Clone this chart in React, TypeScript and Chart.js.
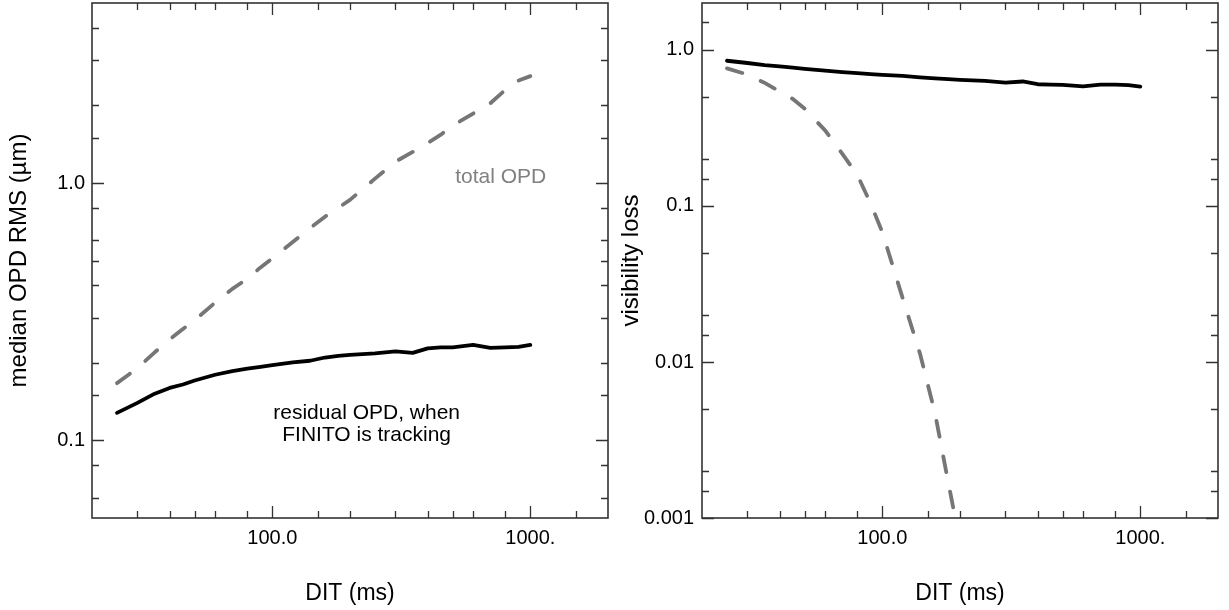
import React, { useEffect, useRef } from "react";
import { Chart, registerables } from "chart.js";

Chart.register(...registerables);

// ---------- data ----------
const DIT = [25, 30, 35, 40, 45, 50, 60, 70, 80, 90, 100, 120, 140, 160, 180, 200, 250, 300, 350, 400, 450, 500, 600, 700, 800, 900, 1000];
const residualOPD = [0.128, 0.14, 0.152, 0.16, 0.165, 0.171, 0.18, 0.186, 0.19, 0.193, 0.196, 0.201, 0.204, 0.21, 0.213, 0.215, 0.218, 0.222, 0.219, 0.228, 0.23, 0.23, 0.235, 0.229, 0.23, 0.231, 0.235];
const totalOPD = [0.167, 0.191, 0.22, 0.247, 0.271, 0.293, 0.343, 0.388, 0.425, 0.47, 0.51, 0.59, 0.668, 0.74, 0.8, 0.86, 1.04, 1.21, 1.32, 1.43, 1.54, 1.67, 1.86, 2.04, 2.3, 2.5, 2.6];
const residualVis = [0.853, 0.825, 0.8, 0.785, 0.77, 0.757, 0.738, 0.722, 0.71, 0.7, 0.693, 0.682, 0.668, 0.657, 0.65, 0.644, 0.634, 0.618, 0.628, 0.603, 0.6, 0.598, 0.584, 0.6, 0.6, 0.595, 0.583];
const DIT_TOTAL_VIS = [25, 30, 35, 40, 45, 50, 60, 70, 80, 90, 100, 120, 140, 160, 180, 200];
const totalVis = [0.762, 0.695, 0.615, 0.542, 0.485, 0.42, 0.305, 0.216, 0.158, 0.104, 0.068, 0.0255, 0.0113, 0.0047, 0.0017, 0.0007];

const X_MIN = 20;
const X_MAX = 2000;
const OPD_MIN = 0.05;
const OPD_MAX = 5;
const VIS_MIN = 0.001;
const VIS_MAX = 2;

const X_TICKS = [100, 1000];
const X_TICK_LABELS = ["100.0", "1000."];
const X_MINOR = [30, 40, 50, 60, 80, 150, 200, 300, 400, 500, 600, 800, 1500];
const OPD_TICKS = [0.1, 1];
const OPD_TICK_LABELS = ["0.1", "1.0"];
const OPD_MINOR = [0.06, 0.08, 0.15, 0.2, 0.3, 0.4, 0.5, 0.6, 0.8, 1.5, 2, 3, 4];
const VIS_TICKS = [0.001, 0.01, 0.1, 1];
const VIS_TICK_LABELS = ["0.001", "0.01", "0.1", "1.0"];
const VIS_MINOR = [0.0015, 0.002, 0.005, 0.015, 0.02, 0.05, 0.15, 0.2, 0.5, 1.5];

const X_TITLE = "DIT (ms)";
const OPD_TITLE = "median OPD RMS (\u00b5m)";
const VIS_TITLE = "visibility loss";

const FONT = "'Liberation Sans', Arial, Helvetica, sans-serif";
const DASH_GRAY = "#767676";

const pts = (xs: number[], ys: number[]) => xs.map((x, i) => ({ x, y: ys[i] }));

const frameTicks = {
  id: "frameTicks",
  afterDraw(chart: any, _args: any, opts: any) {
    const { ctx, chartArea } = chart;
    const { left, right, top, bottom } = chartArea;
    const xs = chart.scales.x;
    const ys = chart.scales.y;
    ctx.save();
    ctx.strokeStyle = "#333";
    ctx.lineWidth = 1.3;
    const major = 12;
    const minor = 7;
    const drawX = (v: number, len: number) => {
      const p = Math.round(xs.getPixelForValue(v)) + 0.5;
      ctx.beginPath();
      ctx.moveTo(p, bottom);
      ctx.lineTo(p, bottom - len);
      ctx.moveTo(p, top);
      ctx.lineTo(p, top + len);
      ctx.stroke();
    };
    const drawY = (v: number, len: number) => {
      const p = Math.round(ys.getPixelForValue(v)) + 0.5;
      ctx.beginPath();
      ctx.moveTo(left, p);
      ctx.lineTo(left + len, p);
      ctx.moveTo(right, p);
      ctx.lineTo(right - len, p);
      ctx.stroke();
    };
    opts.xMajor.forEach((v: number) => drawX(v, major));
    opts.xMinor.forEach((v: number) => drawX(v, minor));
    opts.yMajor.forEach((v: number) => drawY(v, major));
    opts.yMinor.forEach((v: number) => drawY(v, minor));
    ctx.lineWidth = 1.6;
    ctx.strokeRect(left, top, right - left, bottom - top);
    (opts.notes || []).forEach((n: any) => {
      ctx.fillStyle = n.color;
      ctx.font = `${n.size}px ${FONT}`;
      ctx.textAlign = "center";
      ctx.textBaseline = "middle";
      ctx.fillText(n.text, xs.getPixelForValue(n.x), ys.getPixelForValue(n.y));
    });
    ctx.restore();
  },
};

type PanelProps = {
  width: number;
  yWidth: number;
  padRight: number;
  yMin: number;
  yMax: number;
  yTicks: number[];
  yTickLabels: string[];
  yMinor: number[];
  yTitle: string;
  yTitlePad: number;
  yLabelPad: number;
  datasets: any[];
  notes: any[];
};

function Panel(p: PanelProps) {
  const ref = useRef<HTMLCanvasElement | null>(null);
  useEffect(() => {
    if (!ref.current) return;
    const chart = new Chart(ref.current, {
      type: "line",
      data: { datasets: p.datasets },
      options: {
        animation: false,
        responsive: false,
        devicePixelRatio: 1,
        parsing: false as any,
        normalized: true,
        layout: { padding: { left: 0, right: p.padRight, top: 3, bottom: 0 } },
        plugins: {
          legend: { display: false },
          tooltip: { enabled: false },
          frameTicks: {
            xMajor: X_TICKS,
            xMinor: X_MINOR,
            yMajor: p.yTicks,
            yMinor: p.yMinor,
            notes: p.notes,
          },
        } as any,
        elements: { point: { radius: 0 }, line: { tension: 0 } },
        scales: {
          x: {
            type: "logarithmic",
            min: X_MIN,
            max: X_MAX,
            grid: { display: false, drawTicks: false },
            border: { display: false },
            afterBuildTicks: (s: any) => {
              s.ticks = X_TICKS.map((v) => ({ value: v }));
            },
            afterFit: (s: any) => {
              s.height = 92;
              s.paddingLeft = 0;
              s.paddingRight = 0;
            },
            ticks: {
              padding: 8,
              maxRotation: 0,
              autoSkip: false,
              color: "#000",
              font: { family: FONT, size: 20 },
              callback: (v: any) => {
                const i = X_TICKS.indexOf(Number(v));
                return i >= 0 ? X_TICK_LABELS[i] : "";
              },
            },
            title: {
              display: true,
              text: X_TITLE,
              color: "#000",
              font: { family: FONT, size: 23 },
              padding: { top: 0, bottom: 3 },
            },
          },
          y: {
            type: "logarithmic",
            min: p.yMin,
            max: p.yMax,
            grid: { display: false, drawTicks: false },
            border: { display: false },
            afterBuildTicks: (s: any) => {
              s.ticks = p.yTicks.map((v) => ({ value: v }));
            },
            afterFit: (s: any) => {
              s.width = p.yWidth;
              s.paddingTop = 0;
              s.paddingBottom = 0;
            },
            ticks: {
              padding: p.yLabelPad,
              autoSkip: false,
              color: "#000",
              font: { family: FONT, size: 20 },
              callback: (v: any) => {
                const i = p.yTicks.indexOf(Number(v));
                return i >= 0 ? p.yTickLabels[i] : "";
              },
            },
            title: {
              display: true,
              text: p.yTitle,
              color: "#000",
              font: { family: FONT, size: 24 },
              padding: { top: p.yTitlePad, bottom: 0 },
            },
          },
        },
      },
      plugins: [frameTicks as any],
    });
    return () => chart.destroy();
  }, []);
  return <canvas ref={ref} width={p.width} height={610} style={{ display: "block" }} />;
}

export default function App() {
  const lineBlack = (data: any) => ({
    data,
    borderColor: "#000",
    borderWidth: 3.8,
    borderJoinStyle: "round",
    borderCapStyle: "round",
    pointRadius: 0,
    fill: false,
  });
  const lineDash = (data: any) => ({
    data,
    borderColor: DASH_GRAY,
    borderWidth: 3.8,
    borderDash: [16, 20],
    borderJoinStyle: "round",
    borderCapStyle: "round",
    pointRadius: 0,
    fill: false,
  });
  return (
    <div style={{ position: "absolute", left: 0, top: 0, width: 1229, height: 610, display: "flex", background: "#fff" }}>
      <Panel
        width={614}
        yWidth={92}
        padRight={6}
        yMin={OPD_MIN}
        yMax={OPD_MAX}
        yTicks={OPD_TICKS}
        yTickLabels={OPD_TICK_LABELS}
        yMinor={OPD_MINOR}
        yTitle={OPD_TITLE}
        yTitlePad={5}
        yLabelPad={7}
        datasets={[lineDash(pts(DIT, totalOPD)), lineBlack(pts(DIT, residualOPD))]}
        notes={[
          { text: "total OPD", x: 768, y: 1.055, color: "#808080", size: 21 },
          { text: "residual OPD, when", x: 232, y: 0.128, color: "#000", size: 21 },
          { text: "FINITO is tracking", x: 232, y: 0.105, color: "#000", size: 21 },
        ]}
      />
      <Panel
        width={615}
        yWidth={88}
        padRight={11}
        yMin={VIS_MIN}
        yMax={VIS_MAX}
        yTicks={VIS_TICKS}
        yTickLabels={VIS_TICK_LABELS}
        yMinor={VIS_MINOR}
        yTitle={VIS_TITLE}
        yTitlePad={3}
        yLabelPad={8}
        datasets={[lineDash(pts(DIT_TOTAL_VIS, totalVis)), lineBlack(pts(DIT, residualVis))]}
        notes={[]}
      />
    </div>
  );
}
